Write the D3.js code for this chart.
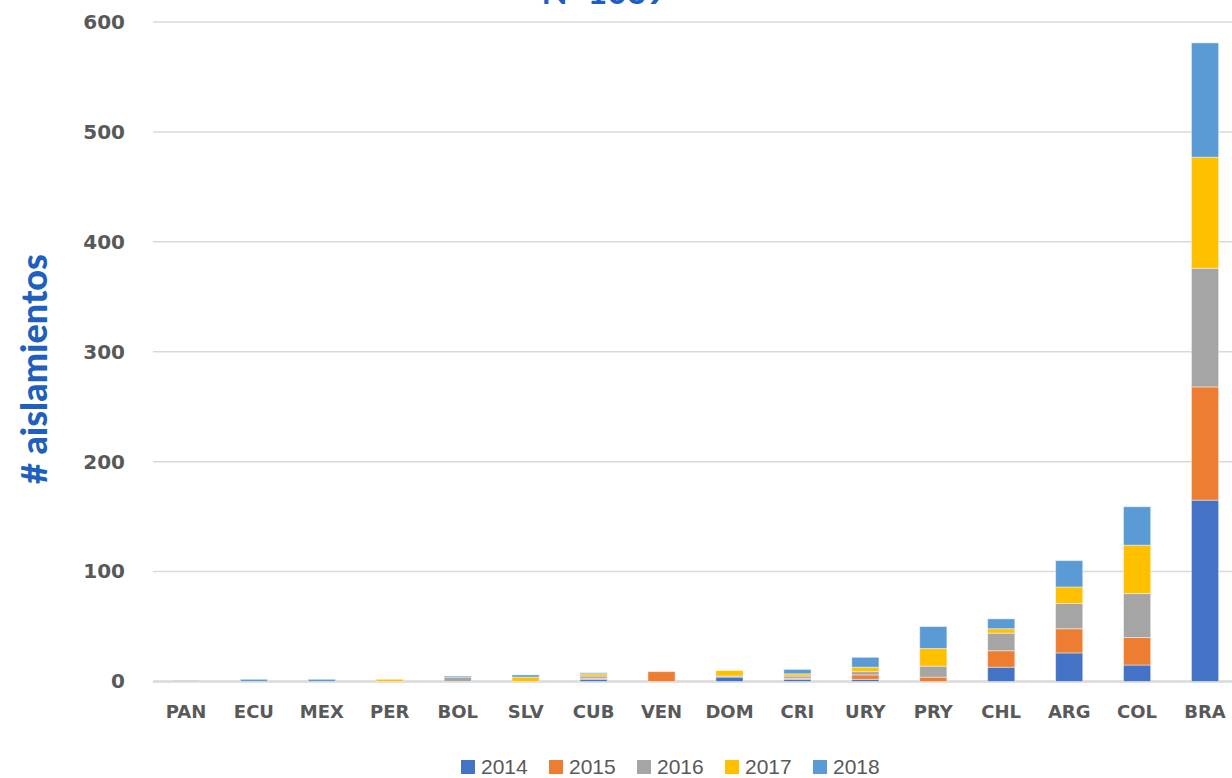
<!DOCTYPE html>
<html>
<head>
<meta charset="utf-8">
<script src="https://cdn.jsdelivr.net/npm/d3@7"></script>
<style>
  body { margin: 0; background: #fff; }
  svg { display: block; }
</style>
</head>
<body>
<svg id="canvas"></svg>
<script>
let countries = ['PAN', 'ECU', 'MEX', 'PER', 'BOL', 'SLV', 'CUB', 'VEN', 'DOM', 'CRI', 'URY', 'PRY', 'CHL', 'ARG', 'COL', 'BRA'];
let years = ['2014', '2015', '2016', '2017', '2018'];
let v2014 = [0, 0, 0, 0, 0, 0, 2, 0, 4, 2, 2, 0, 13, 26, 15, 165];
let v2015 = [0, 0, 0, 0, 0, 0, 1, 9, 0, 1, 4, 4, 15, 22, 25, 103];
let v2016 = [1, 0, 0, 0, 4, 0, 2, 0, 1, 2, 3, 10, 16, 23, 40, 108];
let v2017 = [0, 0, 0, 2, 0, 4, 2, 0, 5, 2, 4, 16, 4, 15, 44, 101];
let v2018 = [0, 2, 2, 0, 1, 2, 1, 0, 0, 4, 9, 20, 9, 24, 35, 104];
let yTicks = [0, 100, 200, 300, 400, 500, 600];
let colors = ['#4472C4', '#ED7D31', '#A5A5A5', '#FFC000', '#5B9BD5'];
let title = 'N=1039';
let yTitle = '# aislamientos';

let width = 1232;
let height = 778;

let canvas = d3.select('#canvas')
    .attr('width', width)
    .attr('height', height);

// rows for the stack
let series = [v2014, v2015, v2016, v2017, v2018];
let rows = countries.map((c, i) => {
    let row = { country: c };
    years.forEach((y, k) => { row[y] = series[k][i]; });
    return row;
});
let stacked = d3.stack().keys(years)(rows);

let xScale = d3.scaleBand()
    .domain(countries)
    .range([152, 1239])
    .paddingInner(0.6)
    .paddingOuter(0.3);

let yScale = d3.scaleLinear()
    .domain([0, 600])
    .range([681.5, 22]);

// gridlines
canvas.append('g')
    .selectAll('line')
    .data(yTicks)
    .enter()
    .append('line')
    .attr('x1', 153)
    .attr('x2', width)
    .attr('y1', (d) => yScale(d))
    .attr('y2', (d) => yScale(d))
    .attr('stroke', '#d9d9d9')
    .attr('stroke-width', (d) => d === 0 ? 2.5 : 1.5);

// y axis labels
let yAxis = d3.axisLeft(yScale).tickValues(yTicks).tickSize(0).tickPadding(0);
let yg = canvas.append('g')
    .attr('transform', 'translate(125, 0)')
    .call(yAxis);
yg.select('.domain').remove();
yg.selectAll('text')
    .attr('fill', '#595959')
    .style('font-family', 'DejaVu Sans')
    .style('font-weight', 'bold')
    .style('font-size', '20px');

// bars
canvas.append('g')
    .selectAll('g')
    .data(stacked)
    .enter()
    .append('g')
    .attr('fill', (d, i) => colors[i])
    .selectAll('rect')
    .data((d) => d.filter((s) => s[1] - s[0] > 0))
    .enter()
    .append('rect')
    .attr('x', (d) => xScale(d.data.country))
    .attr('width', xScale.bandwidth())
    .attr('y', (d) => yScale(d[1]))
    .attr('height', (d) => yScale(d[0]) - yScale(d[1]))
    .attr('stroke', 'rgba(255,255,255,0.45)')
    .attr('stroke-width', 1);

// x axis labels
let xAxis = d3.axisBottom(xScale).tickSize(0).tickPadding(0);
let xg = canvas.append('g')
    .attr('transform', 'translate(0, 705)')
    .call(xAxis);
xg.select('.domain').remove();
xg.selectAll('text')
    .attr('fill', '#595959')
    .attr('dy', '0.71em')
    .style('font-family', 'DejaVu Sans')
    .style('font-weight', 'bold')
    .style('font-size', '18px');

// title (cut at the top edge, as in the original)
canvas.append('text')
    .attr('x', 604)
    .attr('y', 4)
    .attr('text-anchor', 'middle')
    .attr('fill', '#1F5FBF')
    .style('font-family', 'Lato')
    .style('font-weight', 'bold')
    .style('font-size', '34px')
    .text(title);

// y title
canvas.append('text')
    .attr('transform', 'translate(47, 369) rotate(-90)')
    .attr('text-anchor', 'middle')
    .attr('fill', '#1F5FBF')
    .style('font-family', 'Lato')
    .style('font-weight', '900')
    .style('font-size', '36px')
    .text(yTitle);

// legend
let legend = canvas.append('g')
    .selectAll('g')
    .data(years)
    .enter()
    .append('g')
    .attr('transform', (d, i) => 'translate(' + (461 + i * 88) + ', 760)');
legend.append('rect')
    .attr('width', 14)
    .attr('height', 14)
    .attr('fill', (d, i) => colors[i]);
legend.append('text')
    .attr('x', 20)
    .attr('y', 14)
    .attr('fill', '#595959')
    .style('font-family', 'Liberation Sans')
    .style('font-size', '21px')
    .text((d) => d);
</script>
</body>
</html>
